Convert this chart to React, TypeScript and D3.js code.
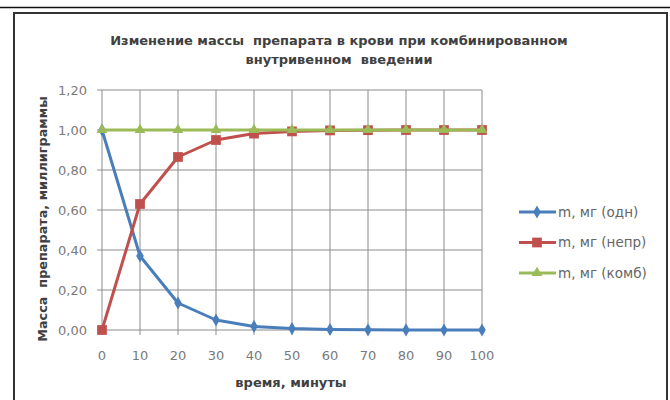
import React, { useEffect, useRef } from "react";
import * as d3 from "d3";

const minutes = [0, 10, 20, 30, 40, 50, 60, 70, 80, 90, 100];
const massSingle = [1.0, 0.37, 0.135, 0.05, 0.018, 0.007, 0.0025, 0.001, 0.0003, 0.0001, 0.0];
const massInfusion = [0.0, 0.63, 0.865, 0.95, 0.982, 0.993, 0.998, 0.999, 1.0, 1.0, 1.0];
const massCombined = [1.0, 1.0, 1.0, 1.0, 1.0, 1.0, 1.0, 1.0, 1.0, 1.0, 1.0];
const yTicks = [0, 0.2, 0.4, 0.6, 0.8, 1.0, 1.2];
const seriesNames = ["m, мг (одн)", "m, мг (непр)", "m, мг (комб)"];
const titleLines = ["Изменение массы  препарата в крови при комбинированном", "внутривенном  введении"];

const font = "'DejaVu Sans', sans-serif";

export default function App() {
	const ref = useRef(null);

	useEffect(() => {
		const root = d3.select(ref.current);
		root.selectAll("*").remove();

		const svg = root.append("svg").attr("width", 670).attr("height", 400).style("position", "absolute").style("left", 0).style("top", 0);

		svg.append("rect").attr("width", 670).attr("height", 400).attr("fill", "#fff");

		// page line above the chart
		svg.append("line").attr("x1", 0).attr("x2", 670).attr("y1", 7.5).attr("y2", 7.5).attr("stroke", "#111").attr("stroke-width", 1.5);

		// chart frame
		svg
			.append("rect")
			.attr("x", 14)
			.attr("y", 13)
			.attr("width", 653)
			.attr("height", 396)
			.attr("fill", "#fff")
			.attr("stroke", "#333")
			.attr("stroke-width", 2);

		const x = d3.scaleLinear().domain([0, 100]).range([102, 482]);
		const y = d3.scaleLinear().domain([0, 1.2]).range([330, 90]);

		// grid
		svg
			.append("g")
			.selectAll("line")
			.data(yTicks)
			.enter()
			.append("line")
			.attr("x1", x(0) - 5)
			.attr("x2", x(100))
			.attr("y1", (d) => y(d))
			.attr("y2", (d) => y(d))
			.attr("stroke", "#8c8c8c")
			.attr("stroke-width", 1);

		svg
			.append("g")
			.selectAll("line")
			.data(minutes)
			.enter()
			.append("line")
			.attr("x1", (d) => x(d))
			.attr("x2", (d) => x(d))
			.attr("y1", y(1.2))
			.attr("y2", y(0) + 5)
			.attr("stroke", "#8c8c8c")
			.attr("stroke-width", 1);

		// tick labels
		svg
			.append("g")
			.selectAll("text")
			.data(yTicks)
			.enter()
			.append("text")
			.attr("x", 87)
			.attr("y", (d) => y(d) + 5)
			.attr("text-anchor", "end")
			.attr("font-family", font)
			.attr("font-size", 13)
			.attr("fill", "#7a7a7a")
			.text((d) => d3.format(".2f")(d).replace(".", ","));

		svg
			.append("g")
			.selectAll("text")
			.data(minutes)
			.enter()
			.append("text")
			.attr("x", (d) => x(d))
			.attr("y", 360)
			.attr("text-anchor", "middle")
			.attr("font-family", font)
			.attr("font-size", 13)
			.attr("fill", "#7a7a7a")
			.text((d) => d);

		// title and axis titles
		svg
			.append("g")
			.selectAll("text")
			.data(titleLines)
			.enter()
			.append("text")
			.attr("x", 339)
			.attr("y", (d, i) => 45 + i * 19)
			.attr("text-anchor", "middle")
			.attr("font-family", font)
			.attr("font-weight", "bold")
			.attr("font-size", 13)
			.attr("fill", "#404040")
			.attr("xml:space", "preserve")
			.text((d) => d);

		svg
			.append("text")
			.attr("transform", `translate(47,219) rotate(-90)`)
			.attr("text-anchor", "middle")
			.attr("font-family", font)
			.attr("font-weight", "bold")
			.attr("font-size", 12.8)
			.attr("fill", "#404040")
			.attr("xml:space", "preserve")
			.text("Масса  препарата, миллиграммы");

		svg
			.append("text")
			.attr("x", 291)
			.attr("y", 387)
			.attr("text-anchor", "middle")
			.attr("font-family", font)
			.attr("font-weight", "bold")
			.attr("font-size", 13)
			.attr("fill", "#404040")
			.text("время, минуты");

		const series = [
			{ name: seriesNames[0], values: massSingle, color: "#4a7ebb", symbol: d3.symbolDiamond, size: 50 },
			{ name: seriesNames[1], values: massInfusion, color: "#c0504d", symbol: d3.symbolSquare, size: 95 },
			{ name: seriesNames[2], values: massCombined, color: "#9bbb59", symbol: d3.symbolTriangle, size: 50 },
		];

		const line = d3
			.line()
			.x((d, i) => x(minutes[i]))
			.y((d) => y(d));

		series.forEach((s) => {
			const g = svg.append("g");
			g.append("path")
				.attr("d", line(s.values))
				.attr("fill", "none")
				.attr("stroke", s.color)
				.attr("stroke-width", 3)
				.attr("stroke-linejoin", "round");
			g.selectAll("path.m")
				.data(s.values)
				.enter()
				.append("path")
				.attr("class", "m")
				.attr("transform", (d, i) => `translate(${x(minutes[i])},${y(d)})`)
				.attr("d", d3.symbol().type(s.symbol).size(s.size)())
				.attr("fill", s.color);
		});

		// legend
		const legend = svg.append("g");
		series.forEach((s, i) => {
			const ly = 212 + i * 30.5;
			legend.append("line").attr("x1", 519).attr("x2", 556).attr("y1", ly).attr("y2", ly).attr("stroke", s.color).attr("stroke-width", 3);
			legend
				.append("path")
				.attr("transform", `translate(537,${ly})`)
				.attr("d", d3.symbol().type(s.symbol).size(s.size)())
				.attr("fill", s.color);
			legend
				.append("text")
				.attr("x", 558)
				.attr("y", ly + 4.5)
				.attr("font-family", font)
				.attr("font-size", 13.5)
				.attr("fill", "#666")
				.text(s.name);
		});
	}, []);

	return <div ref={ref}></div>;
}
